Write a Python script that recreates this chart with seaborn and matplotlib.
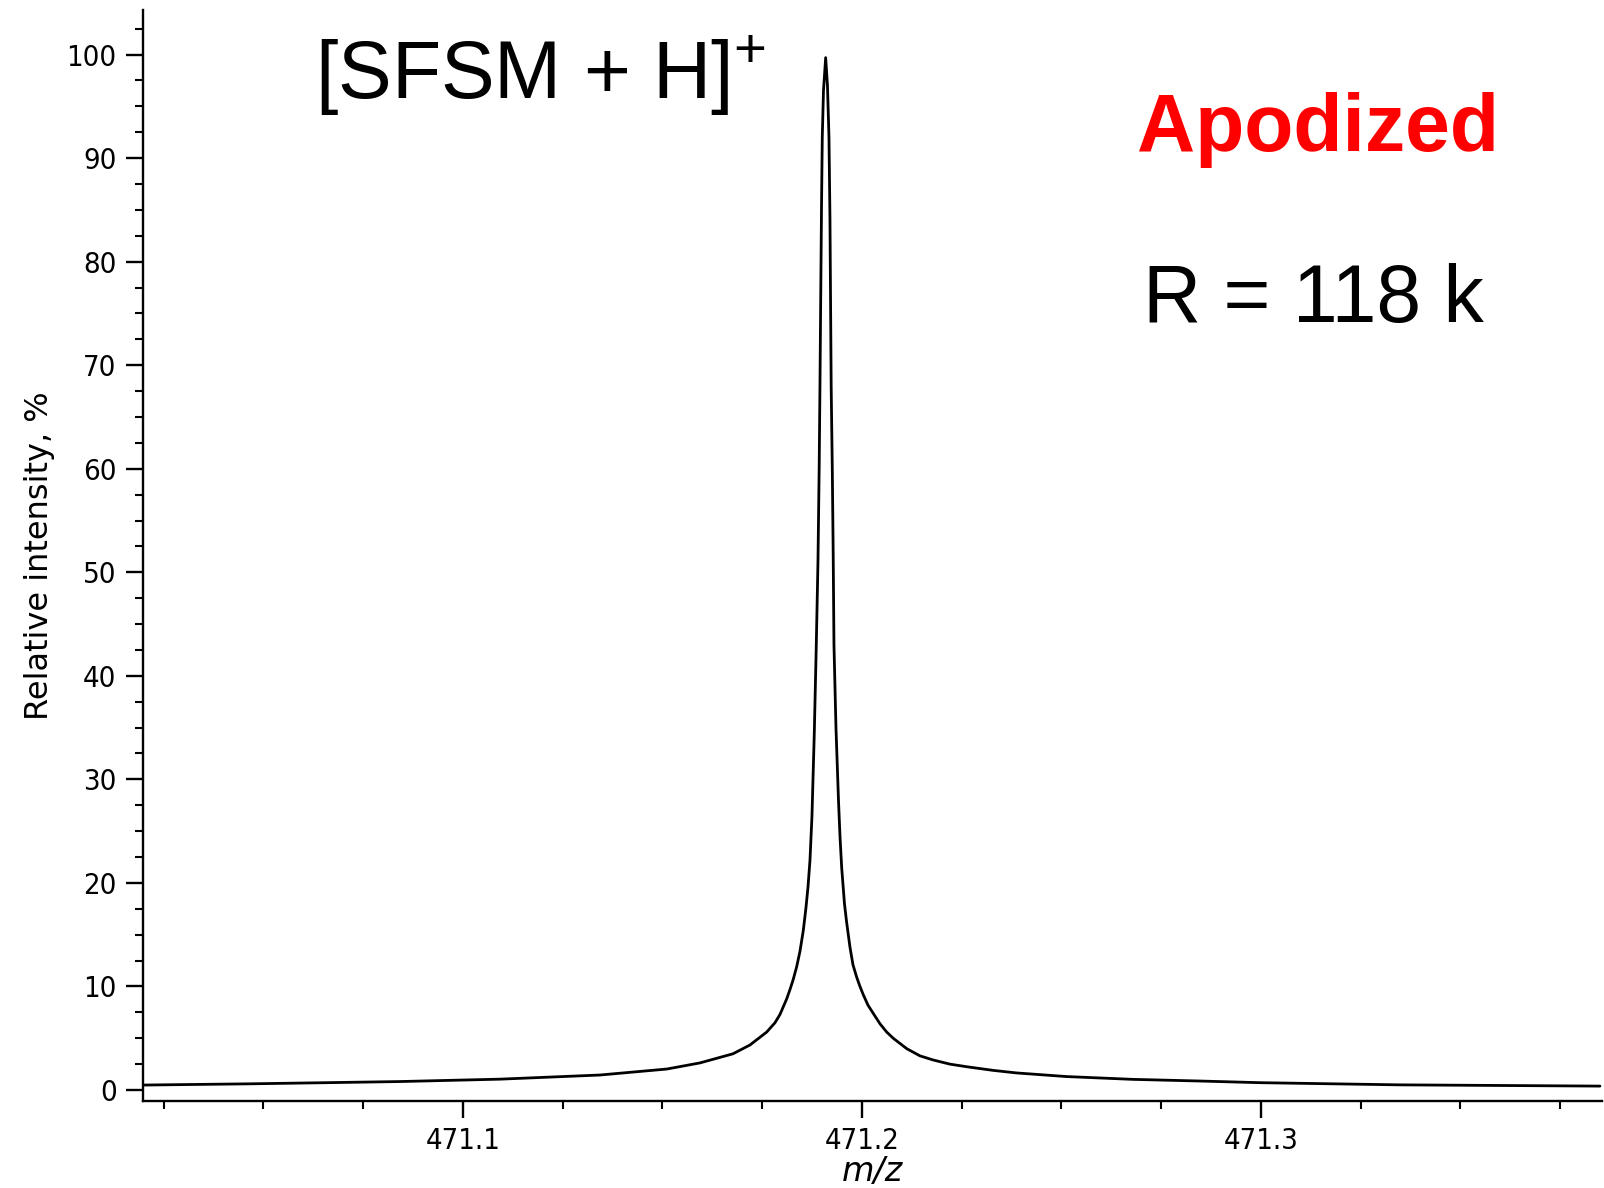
import numpy as np
import pandas as pd
import matplotlib
matplotlib.use("Agg")
import matplotlib.pyplot as plt
from matplotlib.ticker import MultipleLocator, FixedLocator
import seaborn as sns

# ---- data ----
mz = [471.01980, 471.04662, 471.06742, 471.08421, 471.10927, 471.13434,
      471.15113, 471.15940, 471.16767, 471.17193, 471.17612, 471.17820,
      471.17945, 471.18113, 471.18195, 471.18271, 471.18363, 471.18446,
      471.18529, 471.18596, 471.18647, 471.18697, 471.18747, 471.18805,
      471.18855, 471.18897, 471.18927, 471.18947, 471.18967, 471.18985,
      471.19005, 471.19035, 471.19090,
      471.19135, 471.19173, 471.19198, 471.19211, 471.19228, 471.19256,
      471.19278, 471.19298, 471.19348, 471.19411, 471.19449, 471.19491,
      471.19561, 471.19612, 471.19699, 471.19774, 471.19867, 471.19950,
      471.20033, 471.20150, 471.20283, 471.20451, 471.20619, 471.20784,
      471.21120, 471.21454, 471.21787, 471.22206, 471.22624, 471.23283,
      471.23877, 471.25130, 471.26792, 471.28471, 471.29975, 471.33484,
      471.38496]
intensity = [0.48, 0.60, 0.72, 0.82, 1.05, 1.45,
             2.03, 2.62, 3.5, 4.35, 5.6, 6.5,
             7.3, 8.8, 9.7, 10.6, 11.9, 13.4,
             15.4, 17.6, 19.6, 22.2, 26.5, 34.5,
             43.0, 51.0, 60.0, 68.0, 77.0, 85.0,
             92.0, 96.5, 99.7,
             97.0, 92.0, 84.0, 77.0, 68.0, 60.0,
             52.0, 43.0, 35.0, 28.0, 24.5, 21.5,
             18.0, 16.3, 13.8, 12.1, 10.9, 10.0,
             9.2, 8.2, 7.4, 6.4, 5.6, 5.0,
             4.0, 3.3, 2.9, 2.5, 2.25, 1.9,
             1.65, 1.3, 1.03, 0.87, 0.71, 0.50,
             0.38]
x_ticks = [471.1, 471.2, 471.3]
x_ticklabels = ["471.1", "471.2", "471.3"]
y_ticks = [0, 10, 20, 30, 40, 50, 60, 70, 80, 90, 100]
title_text = "[SFSM + H]$^{+}$"
mode_text = "Apodized"
res_text = "R = 118 k"

df = pd.DataFrame({"mz": mz, "intensity": intensity})

sns.set_style("ticks")
plt.rcParams["font.family"] = ["DejaVu Sans"]
plt.rcParams["mathtext.fontset"] = "custom"
plt.rcParams["mathtext.rm"] = "Liberation Sans"
plt.rcParams["mathtext.it"] = "Liberation Sans:italic"
plt.rcParams["mathtext.bf"] = "Liberation Sans:bold"

W, H = 1604, 1188
fig = plt.figure(figsize=(W / 100, H / 100), dpi=100)
ax = fig.add_axes([143 / W, 1 - 1100.7 / H, (1601.7 - 143) / W, (1100.7 - 10) / H])

sns.lineplot(data=df, x="mz", y="intensity", ax=ax, color="black",
             linewidth=2.0, sort=False, estimator=None)
for ln in ax.get_lines():
    ln.set_solid_joinstyle("round")

ax.set_xlim(471.0198, 471.3854)
ax.set_ylim(-1.03, 104.3)

ax.xaxis.set_major_locator(FixedLocator(x_ticks))
ax.set_xticklabels(x_ticklabels)
ax.xaxis.set_minor_locator(MultipleLocator(0.025))
ax.yaxis.set_major_locator(FixedLocator(y_ticks))
ax.set_yticklabels([str(v) for v in y_ticks])
ax.yaxis.set_minor_locator(MultipleLocator(2.5))

for s in ["top", "right"]:
    ax.spines[s].set_visible(False)
for s in ["left", "bottom"]:
    ax.spines[s].set_linewidth(1.7)
    ax.spines[s].set_color("black")

ax.tick_params(which="major", length=12, width=1.7, color="black",
               labelsize=21, pad=7, labelcolor="black")
ax.tick_params(which="minor", length=5.5, width=1.5, color="black")
for lab in ax.get_xticklabels() + ax.get_yticklabels():
    lab.set_fontstretch("condensed")

ax.set_ylabel("Relative intensity, %", fontsize=23, color="black", labelpad=8)
ax.set_xlabel("m/z", fontsize=24, style="italic", color="black", labelpad=0)

fig.text(315 / W, 1 - 98 / H, title_text, fontsize=58,
         family="Liberation Sans", color="black", ha="left", va="baseline")
fig.text(1137 / W, 1 - 151 / H, mode_text, fontsize=58, fontweight="bold",
         family="Liberation Sans", color="#ff0000", ha="left", va="baseline")
fig.text(1143 / W, 1 - 322 / H, res_text, fontsize=58,
         family="Liberation Sans", color="black", ha="left", va="baseline")

fig.savefig("out.png", dpi=100, facecolor="white")
